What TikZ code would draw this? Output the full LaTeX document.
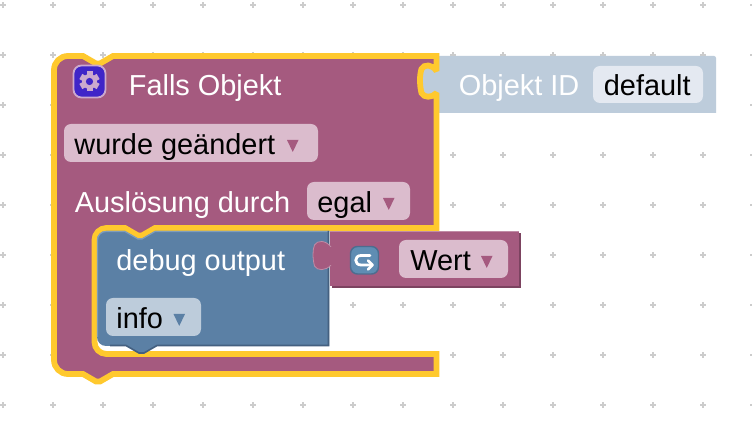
\documentclass[tikz,border=0pt]{standalone}
\usepackage{fontspec}
\setmainfont{Liberation Sans}
\definecolor{mauve}{HTML}{A55A7F}
\definecolor{mauvedark}{HTML}{7C4360}
\definecolor{mauvelight}{HTML}{C08CA6}
\definecolor{mauvefield}{HTML}{DBBCCD}
\definecolor{steel}{HTML}{5B80A5}
\definecolor{steeldark}{HTML}{446080}
\definecolor{steellight}{HTML}{7F9DBC}
\definecolor{steelfield}{HTML}{BDCCDB}
\definecolor{palefield}{HTML}{E4E9F1}
\definecolor{glow}{HTML}{FFC92E}
\definecolor{dotgray}{HTML}{CCCCCC}
\definecolor{gearblue}{HTML}{3F25C8}
\definecolor{gearpale}{HTML}{CBA9CE}
\definecolor{iconblue}{HTML}{5F8DB3}
\tikzset{
	label/.style={inner sep=0pt,anchor=base west,font=\fontsize{14.45}{16}\selectfont},
	whitelabel/.style={label,text=white},
	blacklabel/.style={label,text=black},
	field/.style={rounded corners=3.5pt},
}
\newcommand{\dropmark}[3]{\fill[#1,line join=round] (#2,#3) -- ++(11.5,0) -- ++(-5.75,12) -- cycle;}
\begin{document}
\begin{tikzpicture}[x=0.5pt,y=-0.5pt]
	\clip (0,0) rectangle (752,438);
	\fill[white] (0,0) rectangle (752,438);
	% workspace grid
	\foreach \x in {3,53,...,753}
		\foreach \y in {5,55,...,405}{
			\fill[dotgray] (\x-3,\y-1) rectangle (\x+3,\y+1);
			\fill[dotgray] (\x-1,\y-3) rectangle (\x+1,\y+3);
		}
	% Objekt ID block
	\fill[steelfield] (436.5,56) -- (714,56) arc[radius=2,start angle=-90,end angle=0] -- (716,113) -- (436.5,113) -- cycle;
	\fill[steelfield] (437,93) .. controls (432,98) and (424,98) .. (421.5,93) .. controls (419.5,85) and (419.5,75) .. (421.5,69) .. controls (424,64) and (432,64) .. (437,71) -- cycle;
	% trigger block
	\filldraw[fill=mauve,draw=glow,line width=2.9pt,line join=miter,miter limit=1.5]
		(436.5,56) -- (113,56) -- (100,63.5) -- (96,63.5) -- (83,56) -- (68,56)
		arc[radius=14,start angle=270,end angle=180] -- (54,360)
		arc[radius=14,start angle=180,end angle=90] -- (83,374)
		-- (96,381.5) -- (100,381.5) -- (113,374) -- (436.5,374) -- (436.5,354) -- (106.5,354)
		arc[radius=12,start angle=90,end angle=180] -- (94.5,240)
		arc[radius=12,start angle=180,end angle=270] -- (125,228)
		-- (138,235.5) -- (142,235.5) -- (155,228) -- (436.5,228) -- (436.5,93)
		.. controls (432,98) and (424,98) .. (421.5,93) .. controls (419.5,85) and (419.5,75) .. (421.5,69) .. controls (424,64) and (432,64) .. (436.5,71)
		-- cycle;
	% gear icon
	\coordinate (gear) at (89.5,81.5);
	\filldraw[fill=gearblue,draw=gearpale,line width=0.9pt,rounded corners=4pt] (73.5,65.5) rectangle (105.5,97.5);
	\fill[gearpale] (gear) circle[radius=7.5];
	\foreach \a in {0,60,...,300}
		\fill[gearpale,rotate around={\a:(gear)}] (86.5,71.5) rectangle (92.5,76);
	\fill[gearblue] (gear) circle[radius=3.6];
	\node[whitelabel] (fallstext) at (128.5,96) {Falls Objekt};
	\fill[mauvefield,field] (64,124) rectangle (318,162);
	\node[blacklabel] (changedtext) at (74,154.5) {wurde geändert};
	\dropmark{mauve}{287}{140}
	\node[whitelabel] (triggertext) at (74.5,212.5) {Auslösung durch};
	\fill[mauvefield,field] (307,182) rectangle (410,220);
	\node[blacklabel] (egaltext) at (317,212.5) {egal};
	\dropmark{mauve}{383}{198}
	% Objekt ID labels
	\node[whitelabel] (idtext) at (458.5,96) {Objekt ID};
	\fill[palefield,field] (593,66) rectangle (703,103);
	\node[blacklabel] (defaulttext) at (603.5,96) {default};
	% debug block
	\fill[steel] (329,231) -- (155,231) -- (142,238.5) -- (138,238.5) -- (125,231) -- (106,231)
		arc[radius=9,start angle=270,end angle=180] -- (97,337)
		arc[radius=9,start angle=180,end angle=90] -- (126,346)
		-- (139,353.5) -- (144,353.5) -- (157,346) -- (329,346) -- cycle;
	\draw[steellight,line width=0.6pt] (97.5,337) -- (97.5,240) arc[radius=8.5,start angle=180,end angle=270] -- (125,231.5) -- (138,239) -- (142,239) -- (155,231.5) -- (329,231.5);
	\draw[steeldark,line width=0.8pt] (328.5,231) -- (328.5,345.5) -- (157,345.5) -- (144,353) -- (139,353) -- (126,345.5) -- (110,345.5);
	\node[whitelabel] (debugtext) at (116,270.5) {debug output};
	\fill[steelfield,field] (106,298) rectangle (201,336);
	\node[blacklabel] (infotext) at (116,329) {info};
	\dropmark{steel}{173.5}{314}
	% Wert block
	\fill[mauvedark] (332,233) rectangle (521,288);
	\fill[mauve] (330,231) rectangle (519,286);
	\draw[mauvelight,line width=0.5pt] (330,231.5) -- (519,231.5);
	\filldraw[fill=mauve,draw=mauvelight,line width=0.4pt] (331,265) .. controls (326,271) and (317,271) .. (314.5,266) .. controls (312.5,258) and (312.5,250) .. (314.5,245) .. controls (317,240) and (326,240) .. (331,247);
	\fill[mauve] (326,247) rectangle (333,265);
	% value icon
	\filldraw[fill=iconblue,draw=steeldark!70!iconblue,line width=0.7pt,rounded corners=3.5pt] (350.5,246.5) rectangle (378.5,274);
	\coordinate (arrowend) at (372.5,265);
	\draw[white,line width=1.4pt,line cap=round,line join=round] (370,255.5) -- (361,255.5) .. controls (354,255.5) and (354,265) .. (361,265) -- (arrowend);
	\draw[white,line width=1.4pt,line cap=round,line join=round] (368,260.5) -- (arrowend) -- (368,269.5);
	\fill[mauvefield,field] (399,240) rectangle (508,278);
	\node[blacklabel] (werttext) at (410,270.5) {Wert};
	\dropmark{mauve}{481}{256}
\end{tikzpicture}
\end{document}
